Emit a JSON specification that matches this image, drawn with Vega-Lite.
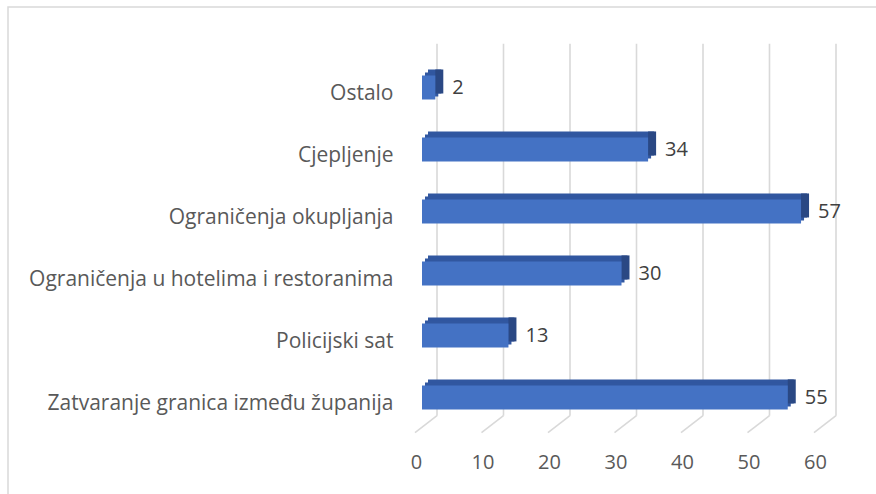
{
  "$schema": "https://vega.github.io/schema/vega-lite/v6.json",
  "width": 871,
  "height": 490,
  "autosize": "none",
  "padding": {"left": 8, "top": 7, "right": 0, "bottom": 0},
  "config": {
    "view": {"stroke": "#d9d9d9", "strokeWidth": 1.5},
    "font": "Open Sans"
  },
  "datasets": {
    "bars": [
      {"kategorija": "Ostalo", "broj": 2},
      {"kategorija": "Cjepljenje", "broj": 34},
      {"kategorija": "Ograničenja okupljanja", "broj": 57},
      {"kategorija": "Ograničenja u hotelima i restoranima", "broj": 30},
      {"kategorija": "Policijski sat", "broj": 13},
      {"kategorija": "Zatvaranje granica između županija", "broj": 55}
    ],
    "ticks": [
      {"v": 0}, {"v": 10}, {"v": 20}, {"v": 30}, {"v": 40}, {"v": 50}, {"v": 60}
    ]
  },
  "layer": [
    {
      "data": {"name": "ticks"},
      "layer": [
        {
          "mark": {"type": "rule", "color": "#d9d9d9", "strokeWidth": 1.6, "xOffset": 15},
          "encoding": {
            "x": {"field": "v", "type": "quantitative", "scale": {"domain": [-62.256, 68.722], "nice": false, "zero": false},
              "axis": {
                "orient": "bottom",
                "offset": -35,
                "title": null,
                "values": [0, 10, 20, 30, 40, 50, 60],
                "domain": false,
                "ticks": false,
                "tickSize": 0,
                "grid": false,
                "labelPadding": 0,
                "labelBaseline": "middle",
                "labelOffset": -6,
                "labelFontSize": 20,
                "labelColor": "#595959",
                "labelFont": "Open Sans"
              }},
            "y": {"datum": 100, "type": "quantitative", "scale": {"domain": [-21.86, 109.88], "nice": false, "zero": false}, "axis": null},
            "y2": {"datum": 0}
          }
        },
        {
          "mark": {"type": "rule", "color": "#d9d9d9", "strokeWidth": 1.6, "xOffset": 15, "x2Offset": -7},
          "encoding": {
            "x": {"field": "v", "type": "quantitative"},
            "x2": {"field": "v"},
            "y": {"datum": 0, "type": "quantitative"},
            "y2": {"datum": -4.56}
          }
        }
      ]
    },
    {
      "data": {"name": "bars"},
      "encoding": {
        "y": {
          "field": "kategorija",
          "type": "nominal",
          "sort": null,
          "scale": {"paddingInner": 0.094, "paddingOuter": 1, "align": 0.4229},
          "axis": {
            "orient": "left",
            "offset": -390,
            "title": null,
            "domain": false,
            "ticks": false,
            "tickSize": 0,
            "labelPadding": 5,
            "labelOffset": 7,
            "labelFontSize": 21,
            "labelColor": "#595959",
            "labelFont": "Open Sans",
            "labelLimit": 500
          }
        }
      },
      "layer": [
        {
          "mark": {"type": "bar", "color": "#3157a0", "height": 24, "xOffset": 6, "x2Offset": 6, "yOffset": -6},
          "encoding": {
            "x": {"field": "broj", "type": "quantitative",
              "axis": {
                "orient": "bottom",
                "offset": -35,
                "title": null,
                "values": [0, 10, 20, 30, 40, 50, 60],
                "domain": false,
                "ticks": false,
                "tickSize": 0,
                "grid": false,
                "labelPadding": 0,
                "labelBaseline": "middle",
                "labelOffset": -6,
                "labelFontSize": 20,
                "labelColor": "#595959",
                "labelFont": "Open Sans"
              }
            },
            "x2": {"datum": 0}
          }
        },
        {
          "mark": {"type": "bar", "color": "#3157a0", "height": 24, "xOffset": 3, "x2Offset": 3, "yOffset": -3},
          "encoding": {
            "x": {"field": "broj", "type": "quantitative"},
            "x2": {"datum": 0}
          }
        },
        {
          "mark": {"type": "bar", "color": "#2a4884", "height": 24, "x2Offset": 8, "yOffset": -6},
          "encoding": {
            "x": {"field": "broj", "type": "quantitative"},
            "x2": {"field": "broj"}
          }
        },
        {
          "mark": {"type": "bar", "color": "#4472c4", "height": 24},
          "encoding": {
            "x": {"field": "broj", "type": "quantitative"},
            "x2": {"datum": 0}
          }
        },
        {
          "mark": {"type": "text", "align": "left", "baseline": "middle", "dx": 17, "dy": 1, "fontSize": 20, "color": "#404040", "font": "Open Sans"},
          "encoding": {
            "x": {"field": "broj", "type": "quantitative"},
            "text": {"field": "broj", "type": "quantitative"}
          }
        }
      ]
    }
  ],
  "resolve": {"scale": {"y": "independent"}}
}
